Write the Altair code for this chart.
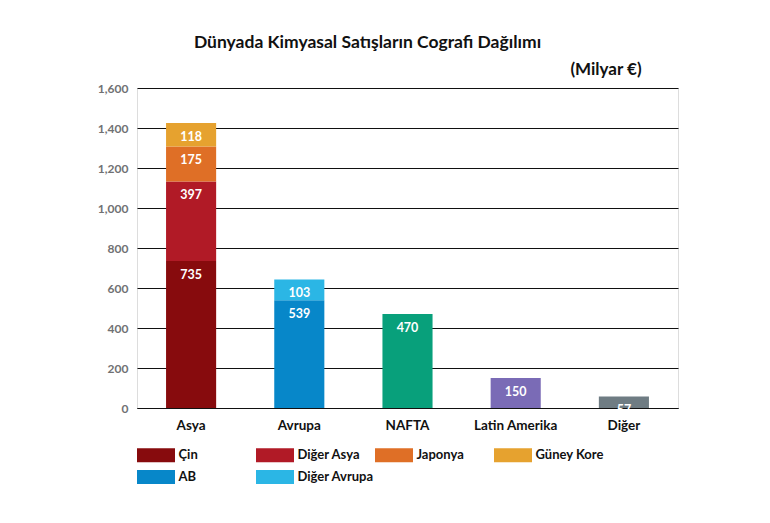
import altair as alt
import pandas as pd

title = "Dünyada Kimyasal Satışların Cografi Dağılımı"
unit_note = "(Milyar €)"

regions = ["Asya", "Asya", "Asya", "Asya", "Avrupa", "Avrupa", "NAFTA", "Latin Amerika", "Diğer"]
segments = ["Çin", "Diğer Asya", "Japonya", "Güney Kore", "AB", "Diğer Avrupa", "NAFTA", "Latin Amerika", "Diğer"]
values = [735, 397, 175, 118, 539, 103, 470, 150, 57]
colors = ["#870b0d", "#b11a26", "#df6f26", "#e6a22f", "#0787c9", "#2bb6e5", "#08a07b", "#7a6bb6", "#6f7c83"]
region_order = ["Asya", "Avrupa", "NAFTA", "Latin Amerika", "Diğer"]
# order chosen so the 4-column legend grid reads: Çin, Diğer Asya, Japonya, Güney Kore / AB, Diğer Avrupa
legend_items = ["Çin", "Güney Kore", "Diğer Asya", "AB", "Japonya", "Diğer Avrupa"]
y_ticks = [0, 200, 400, 600, 800, 1000, 1200, 1400, 1600]

df = pd.DataFrame({"region": regions, "segment": segments, "value": values})
df["top"] = df.groupby("region")["value"].cumsum()
df["bottom"] = df["top"] - df["value"]

FONT = "Lato"

x_axis = alt.Axis(labelAngle=0, labelFont=FONT, labelFontSize=13.5, labelFontWeight="bold",
                  labelColor="#111111", labelPadding=10, ticks=False,
                  domainColor="#111111", domainWidth=1.2, grid=False)
x_scale = alt.Scale(paddingInner=0.537, paddingOuter=0.2685)
y_axis = alt.Axis(values=y_ticks, format=",d", labelFont=FONT, labelFontSize=12,
                  labelFontWeight="bold", labelColor="#707173", labelPadding=9,
                  ticks=False, domain=False, grid=True, gridColor="#111111",
                  gridWidth=1, gridOpacity=1, labelOverlap=False)
y_scale = alt.Scale(domain=[0, 1600])

bars = alt.Chart(df).mark_bar().encode(
    x=alt.X("region:N", sort=region_order, title=None, scale=x_scale, axis=x_axis),
    y=alt.Y("top:Q", title=None, scale=y_scale, axis=y_axis),
    y2="bottom:Q",
    color=alt.Color("segment:N",
                    scale=alt.Scale(domain=segments, range=colors),
                    legend=alt.Legend(values=legend_items, title=None, orient="none",
                                      legendX=9.5, legendY=357.5, columns=4, gridAlign="all",
                                      symbolType="M-2,-0.74H2V0.74H-2Z", symbolSize=361,
                                      symbolStrokeWidth=0, symbolOpacity=1,
                                      labelFont=FONT, labelFontSize=13, labelFontWeight="bold",
                                      labelColor="#111111", labelOffset=13,
                                      columnPadding=0, rowPadding=5, labelLimit=200)),
)

labels = alt.Chart(df).mark_text(font=FONT, fontSize=12.5, fontWeight="bold", color="white",
                                 baseline="middle", dy=13.5).encode(
    x=alt.X("region:N", sort=region_order, title=None, scale=x_scale, axis=x_axis),
    y=alt.Y("top:Q", title=None, scale=y_scale, axis=y_axis),
    text=alt.Text("value:Q"),
)

note = alt.Chart(pd.DataFrame({"t": [unit_note]})).mark_text(
    font=FONT, fontSize=17, fontWeight="bold", color="#111111", align="center", baseline="middle"
).encode(x=alt.value(469), y=alt.value(-18), text="t:N")

chart = alt.layer(bars, labels, note).properties(
    width=541, height=320,
    title=alt.TitleParams(title, font=FONT, fontSize=17.5, fontWeight="bold", color="#111111",
                          anchor="middle", dx=-40, offset=10),
    autosize=alt.AutoSizeParams(type="none"),
    padding={"left": 129, "top": 80, "right": 84, "bottom": 100},
).configure_view(fill="#e4e6e9", stroke=None).configure(background="white")

chart.save("out.html", embed_options={"renderer": "svg", "actions": False})
